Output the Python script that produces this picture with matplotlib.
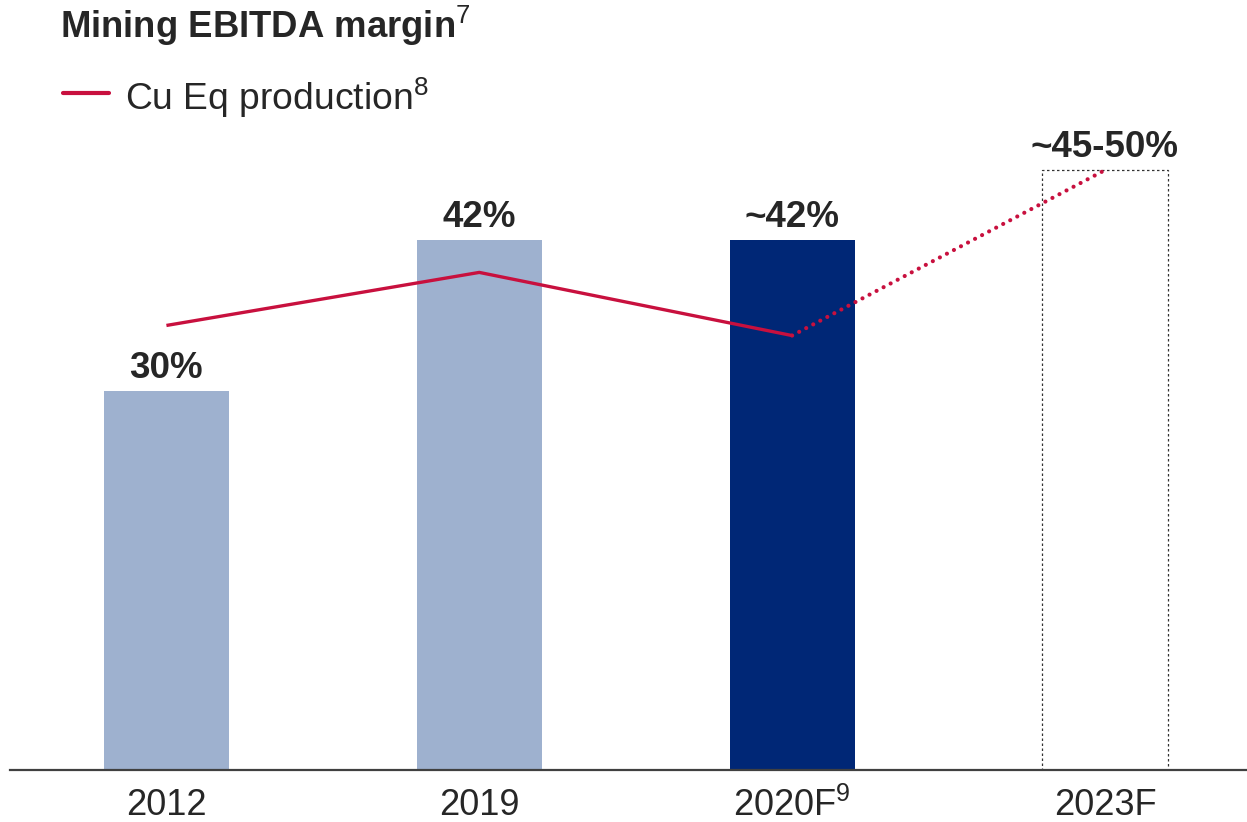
import matplotlib
matplotlib.use("Agg")
import matplotlib.pyplot as plt
from matplotlib.lines import Line2D

plt.rcParams['font.family'] = ['Liberation Sans', 'DejaVu Sans']
plt.rcParams['mathtext.fontset'] = 'custom'
plt.rcParams['mathtext.rm'] = 'Liberation Sans'

# Data
categories = ['2012', '2019', '2020F$^{\\mathrm{9}}$', '2023F']
ebitda_margin = [30, 42, 42, 47.5]
bar_labels = ['30%', '42%', '~42%', '~45-50%']
cu_eq_production = [35.2, 39.4, 34.4, 47.5]  # relative index, same visual scale

light_blue = '#9EB1CF'
dark_blue = '#002776'
red = '#C8103E'

fig = plt.figure(figsize=(12.47, 8.22), dpi=100)
ax = fig.add_axes([10 / 1247, 52 / 822, 1237 / 1247, 770 / 822])
ax.set_xlim(-0.5, 3.454)
ax.set_ylim(0, 60.97)

x = list(range(len(categories)))
width = 0.4
colors = [light_blue, light_blue, dark_blue]
for i in range(3):
    ax.bar(x[i], ebitda_margin[i], width=width, color=colors[i], zorder=2)
ax.bar(x[3], ebitda_margin[3], width=width, facecolor='none', edgecolor='#333333',
       linestyle=(0, (2, 2)), linewidth=0.9, zorder=2)

for i in range(4):
    ax.annotate(bar_labels[i], (x[i], ebitda_margin[i]), xytext=(0, 3.5),
                textcoords='offset points', ha='center', va='bottom',
                fontsize=26.5, fontweight='bold', color='#262626')

# Line
ax.plot(x[:3], cu_eq_production[:3], color=red, lw=2.4, solid_capstyle='butt', zorder=3)
ax.plot(x[2:], cu_eq_production[2:], color=red, lw=3.0, linestyle=(0, (0.01, 1.9)),
        dash_capstyle='round', zorder=3)

# Axes styling
for s in ['top', 'right', 'left']:
    ax.spines[s].set_visible(False)
ax.spines['bottom'].set_color('#404040')
ax.spines['bottom'].set_linewidth(1.6)
ax.set_yticks([])
ax.set_xticks(x)
ax.set_xticklabels(categories, fontsize=26, color='#262626')
ax.tick_params(axis='x', length=0, pad=13)

# Title and legend
fig.text(60 / 1247, 1 - 38 / 822, 'Mining EBITDA margin$^{\\mathrm{7}}$', fontsize=26.3,
         fontweight='bold', color='#262626', ha='left', va='baseline')
fig.add_artist(Line2D([63 / 1247, 109 / 1247], [1 - 93 / 822, 1 - 93 / 822], color=red,
                      lw=3, solid_capstyle='round'))
fig.text(125 / 1247, 1 - 110 / 822, 'Cu Eq production$^{\\mathrm{8}}$', fontsize=26.8,
         color='#262626', ha='left', va='baseline')

fig.savefig('out.png', dpi=100)
